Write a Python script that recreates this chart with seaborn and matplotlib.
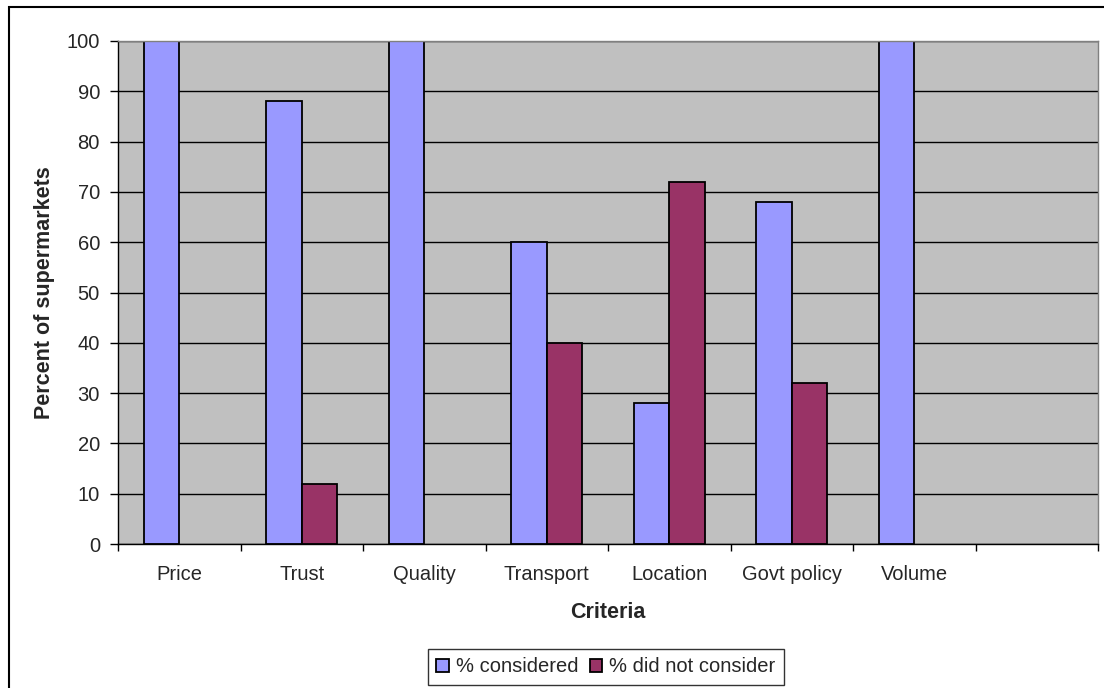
import numpy as np
import pandas as pd
import matplotlib
matplotlib.use("Agg")
import matplotlib.pyplot as plt
import seaborn as sns
from matplotlib.patches import Rectangle
from matplotlib.ticker import MultipleLocator

criteria = ["Price", "Trust", "Quality", "Transport", "Location", "Govt policy", "Volume", " "]
considered = [100, 88, 100, 60, 28, 68, 100, np.nan]
not_considered = [np.nan, 12, np.nan, 40, 72, 32, np.nan, np.nan]
series = ["% considered", "% did not consider"]
colors = ["#9999FF", "#993366"]

df = pd.DataFrame({
    "Criteria": criteria * 2,
    "Series": [series[0]] * len(criteria) + [series[1]] * len(criteria),
    "Percent": considered + not_considered,
})

sns.set_theme(style="white")
plt.rcParams["font.family"] = ["Liberation Sans", "DejaVu Sans"]

fig = plt.figure(figsize=(11.04, 6.88), dpi=100)
ax = fig.add_axes([118 / 1104, 1 - 544 / 688, (1098 - 118) / 1104, (544 - 41) / 688])
ax.set_facecolor("#C0C0C0")

sns.barplot(data=df, x="Criteria", y="Percent", hue="Series", order=criteria,
            hue_order=series, palette=colors, width=0.58, edgecolor="black",
            linewidth=1.3, saturation=1, ax=ax, legend=True)

ax.set_xlim(-0.5, len(criteria) - 0.5)
ax.set_ylim(0, 100)
ax.yaxis.set_major_locator(MultipleLocator(10))
ax.grid(axis="y", color="black", linewidth=1)
ax.set_axisbelow(True)

ax.set_xticks(range(len(criteria)))
ax.set_xticklabels(criteria, fontsize=14.5)
ax.set_xticks(np.arange(-0.5, len(criteria)), minor=True)
ax.tick_params(axis="x", which="major", length=0, pad=15)
ax.tick_params(axis="x", which="minor", length=5, width=1, color="black", direction="out", bottom=True)
ax.tick_params(axis="y", length=6, width=1, color="black", direction="out", left=True, labelsize=14.5, pad=7)

for side in ["top", "right"]:
    ax.spines[side].set_color("#808080")
for side in ["left", "bottom"]:
    ax.spines[side].set_color("black")
for s in ax.spines.values():
    s.set_linewidth(1)

ax.set_xlabel("Criteria", fontsize=15.5, fontweight="bold", labelpad=13)
ax.set_ylabel("Percent of supermarkets", fontsize=15.5, fontweight="bold", labelpad=8)

leg = ax.legend(loc="center", bbox_to_anchor=(606 / 1104, 1 - 667 / 688),
                bbox_transform=fig.transFigure, ncol=2, frameon=True, fontsize=14.5,
                handlelength=0.6, handleheight=0.6, handletextpad=0.35, columnspacing=0.6,
                borderpad=0.4, fancybox=False, edgecolor="black")
leg.get_frame().set_linewidth(1)

fig.patches.append(Rectangle((9 / 1104, -0.01), 1.02, 1 - 7 / 688 + 0.01, transform=fig.transFigure,
                             fill=False, edgecolor="black", linewidth=1.5, zorder=-1))

fig.savefig("out.png", dpi=100)
